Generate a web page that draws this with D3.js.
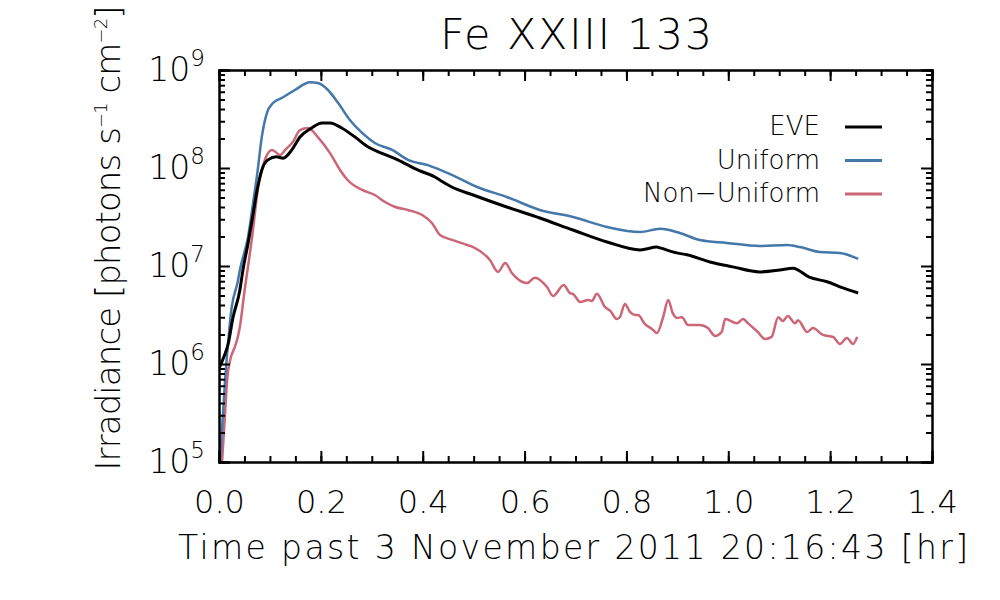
<!DOCTYPE html>
<html lang="en">

<head>
    <meta charset="UTF-8">
    <title>Fe XXIII 133</title>
    <style>
        * {
            margin: 0;
            padding: 0;
        }

        html,
        body {
            overflow: hidden;
            background: #fff;
        }

        text {
            font-family: 'DejaVu Sans', sans-serif;
            font-weight: 200;
            fill: #000;
        }
    </style>
</head>

<body>
    <div id="chart"></div>
    <script src="https://cdn.jsdelivr.net/npm/d3@7"></script>
    <script>
        const xTicks = [0.0, 0.2, 0.4, 0.6, 0.8, 1.0, 1.2, 1.4]
        const yTicks = [1e5, 1e6, 1e7, 1e8, 1e9]

        const seriesNames = ['EVE', 'Uniform', 'Non\u2212Uniform']
        const seriesColors = ['#000000', '#4477AA', '#CC6677']

        const eveTime = [0, 0.010, 0.018, 0.027, 0.041, 0.047, 0.057, 0.065, 0.076, 0.084, 0.096, 0.113, 0.126, 0.143, 0.159, 0.182, 0.202, 0.218, 0.241, 0.267, 0.293, 0.319, 0.351, 0.391, 0.424, 0.434, 0.457, 0.499, 0.565, 0.630, 0.695, 0.762, 0.827, 0.860, 0.866, 0.899, 0.919, 0.964, 1.009, 1.061, 1.101, 1.127, 1.159, 1.194, 1.225, 1.255]
        const eveValue = [9.0e5, 1.2e6, 1.6e6, 2.9e6, 5.7e6, 9.1e6, 1.7e7, 2.95e7, 6.4e7, 9.5e7, 1.21e8, 1.30e8, 1.26e8, 1.53e8, 2.07e8, 2.56e8, 2.88e8, 2.88e8, 2.56e8, 2.07e8, 1.64e8, 1.42e8, 1.21e8, 9.5e7, 8.1e7, 7.5e7, 6.4e7, 5.3e7, 4.0e7, 3.09e7, 2.33e7, 1.76e7, 1.46e7, 1.56e7, 1.53e7, 1.36e7, 1.30e7, 1.10e7, 9.8e6, 8.7e6, 9.1e6, 9.5e6, 7.7e6, 6.9e6, 5.97e6, 5.3e6]

        const uniformTime = [0.002, 0.004, 0.012, 0.015, 0.025, 0.037, 0.041, 0.057, 0.067, 0.076, 0.084, 0.094, 0.106, 0.123, 0.149, 0.179, 0.194, 0.214, 0.234, 0.257, 0.281, 0.306, 0.340, 0.371, 0.410, 0.457, 0.507, 0.565, 0.630, 0.695, 0.762, 0.827, 0.866, 0.905, 0.944, 0.997, 1.061, 1.115, 1.141, 1.179, 1.219, 1.255]
        const uniformValue = [1.0e5, 1.5e5, 6.9e5, 1.1e6, 3.8e6, 7.0e6, 9.1e6, 1.98e7, 4.4e7, 9.5e7, 2.07e8, 3.64e8, 4.6e8, 5.18e8, 6.25e8, 7.5e8, 7.36e8, 6.25e8, 4.6e8, 3.09e8, 2.28e8, 1.80e8, 1.53e8, 1.21e8, 1.07e8, 8.5e7, 6.4e7, 5.06e7, 3.73e7, 3.16e7, 2.5e7, 2.22e7, 2.4e7, 2.17e7, 1.84e7, 1.72e7, 1.60e7, 1.64e7, 1.56e7, 1.39e7, 1.36e7, 1.18e7]

        const nonUniformTime = [0.006, 0.012, 0.016, 0.022, 0.031, 0.037, 0.041, 0.049, 0.065, 0.077, 0.090, 0.104, 0.120, 0.130, 0.145, 0.159, 0.175, 0.194, 0.218, 0.238, 0.253, 0.281, 0.306, 0.326, 0.346, 0.371, 0.399, 0.418, 0.434, 0.459, 0.487, 0.499, 0.532, 0.548, 0.562, 0.575, 0.605, 0.620, 0.644, 0.656, 0.677, 0.689, 0.695, 0.709, 0.725, 0.732, 0.742, 0.758, 0.768, 0.781, 0.787, 0.797, 0.807, 0.817, 0.823, 0.836, 0.850, 0.860, 0.872, 0.882, 0.891, 0.899, 0.909, 0.921, 0.944, 0.960, 0.974, 0.987, 0.994, 1.017, 1.029, 1.039, 1.058, 1.072, 1.085, 1.098, 1.107, 1.117, 1.131, 1.137, 1.155, 1.166, 1.186, 1.206, 1.219, 1.233, 1.245, 1.253]
        const nonUniformValue = [1.0e5, 3.16e5, 6.9e5, 1.10e6, 1.49e6, 1.89e6, 2.4e6, 5.0e6, 1.98e7, 6.4e7, 1.21e8, 1.53e8, 1.36e8, 1.53e8, 1.84e8, 2.44e8, 2.56e8, 2.07e8, 1.42e8, 9.5e7, 7.5e7, 5.97e7, 5.3e7, 4.5e7, 4.0e7, 3.73e7, 3.31e7, 2.75e7, 2.07e7, 1.84e7, 1.64e7, 1.56e7, 1.15e7, 8.7e6, 1.07e7, 8.5e6, 6.7e6, 7.6e6, 6.1e6, 4.94e6, 6.4e6, 5.3e6, 5.2e6, 4.3e6, 4.5e6, 4.4e6, 5.2e6, 3.8e6, 3.5e6, 2.88e6, 3.0e6, 4.1e6, 3.4e6, 3.16e6, 3.16e6, 2.56e6, 2.28e6, 2.07e6, 3.0e6, 4.5e6, 3.3e6, 2.95e6, 3.0e6, 2.5e6, 2.5e6, 2.33e6, 1.93e6, 2.12e6, 2.88e6, 2.6e6, 2.88e6, 2.6e6, 2.12e6, 1.80e6, 1.89e6, 3.0e6, 2.75e6, 3.09e6, 2.6e6, 2.8e6, 2.12e6, 2.33e6, 1.98e6, 1.89e6, 1.60e6, 1.84e6, 1.60e6, 1.89e6]

        function drawChart() {
            const width = 1000
            const height = 600
            const margin = { top: 70, right: 68, bottom: 138, left: 219 }
            const innerWidth = width - margin.left - margin.right
            const innerHeight = height - margin.top - margin.bottom

            const svg = d3.select('#chart')
                .append('svg')
                .attr('width', width)
                .attr('height', height)
                .style('background-color', '#fff')

            const x = d3.scaleLinear()
                .domain([0, 1.4])
                .range([0, innerWidth])

            const y = d3.scaleLog()
                .domain([1e5, 1e9])
                .range([innerHeight, 0])

            const g = svg.append('g')
                .attr('transform', `translate(${margin.left}, ${margin.top})`)

            const series = [
                { time: nonUniformTime, value: nonUniformValue, color: seriesColors[2], width: 2.5 },
                { time: uniformTime, value: uniformValue, color: seriesColors[1], width: 2.5 },
                { time: eveTime, value: eveValue, color: seriesColors[0], width: 3 }
            ]

            svg.append('clipPath')
                .attr('id', 'plot-clip')
                .append('rect')
                .attr('width', innerWidth)
                .attr('height', innerHeight)

            const line = d3.line()
                .x(d => x(d[0]))
                .y(d => y(d[1]))
                .curve(d3.curveMonotoneX)

            g.append('g')
                .attr('clip-path', 'url(#plot-clip)')
                .selectAll('path')
                .data(series)
                .join('path')
                .attr('d', s => line(d3.zip(s.time, s.value)))
                .attr('fill', 'none')
                .attr('stroke', s => s.color)
                .attr('stroke-width', s => s.width)
                .attr('stroke-linejoin', 'round')

            // x axes: major + minor ticks, bottom and top
            const xMinor = d3.range(0, 1.401, 0.05)
            const majorLen = 11
            const minorLen = 6

            const xBottom = g.append('g')
                .attr('transform', `translate(0, ${innerHeight})`)
                .call(d3.axisBottom(x).tickValues(xTicks).tickSize(-majorLen).tickPadding(28).tickFormat(d3.format('.1f')))
            g.append('g')
                .attr('transform', `translate(0, ${innerHeight})`)
                .call(d3.axisBottom(x).tickValues(xMinor).tickSize(-minorLen).tickFormat(''))
            g.append('g')
                .call(d3.axisTop(x).tickValues(xTicks).tickSize(-majorLen).tickFormat(''))
            g.append('g')
                .call(d3.axisTop(x).tickValues(xMinor).tickSize(-minorLen).tickFormat(''))

            // y axes: decades + log minor ticks, left and right
            const yMinor = []
            yTicks.slice(0, -1).forEach(t => {
                for (let k = 2; k <= 9; k++) yMinor.push(t * k)
            })

            const yLeft = g.append('g')
                .call(d3.axisLeft(y).tickValues(yTicks).tickSize(-majorLen).tickPadding(14).tickFormat(''))
            g.append('g')
                .call(d3.axisLeft(y).tickValues(yMinor).tickSize(-minorLen).tickFormat(''))
            g.append('g')
                .attr('transform', `translate(${innerWidth}, 0)`)
                .call(d3.axisRight(y).tickValues(yTicks).tickSize(-majorLen).tickFormat(''))
            g.append('g')
                .attr('transform', `translate(${innerWidth}, 0)`)
                .call(d3.axisRight(y).tickValues(yMinor).tickSize(-minorLen).tickFormat(''))

            g.selectAll('.domain')
                .attr('stroke', '#000')
                .attr('stroke-width', 2)
            g.selectAll('.tick line')
                .attr('stroke', '#000')
                .attr('stroke-width', 2)

            xBottom.selectAll('.tick text')
                .attr('font-size', 32)
                .attr('font-family', null)

            yLeft.selectAll('.tick text')
                .attr('font-family', null)
                .attr('font-size', 33)
                .attr('dy', '0.32em')
                .each(function (d) {
                    const t = d3.select(this)
                    t.append('tspan').text('10')
                    t.append('tspan')
                        .attr('dy', -15)
                        .attr('font-size', 23)
                        .text(Math.round(Math.log10(d)))
                })

            // title and axis labels
            svg.append('text')
                .attr('x', 576)
                .attr('y', 49)
                .attr('text-anchor', 'middle')
                .attr('font-size', 43)
                .attr('textLength', 272)
                .text('Fe XXIII 133')

            svg.append('text')
                .attr('x', 573)
                .attr('y', 559)
                .attr('text-anchor', 'middle')
                .attr('font-size', 33)
                .attr('textLength', 790)
                .text('Time past 3 November 2011 20:16:43 [hr]')

            const yLabel = svg.append('text')
                .attr('transform', 'translate(120, 238) rotate(-90)')
                .attr('text-anchor', 'middle')
                .attr('font-size', 34)
                .attr('textLength', 465)
            yLabel.append('tspan').text('Irradiance [photons s')
            yLabel.append('tspan').attr('dy', -13).attr('font-size', 18).text('\u22121')
            yLabel.append('tspan').attr('dy', 13).text(' cm')
            yLabel.append('tspan').attr('dy', -13).attr('font-size', 18).text('\u22122')
            yLabel.append('tspan').attr('dy', 13).text(']')

            // legend
            const legend = svg.append('g')
                .selectAll('g')
                .data(seriesNames)
                .join('g')
                .attr('transform', (d, i) => `translate(820, ${135 + i * 33.5})`)

            legend.append('text')
                .attr('text-anchor', 'end')
                .attr('font-size', 26)
                .text(d => d)

            legend.append('line')
                .attr('x1', 25)
                .attr('x2', 62)
                .attr('y1', -8)
                .attr('y2', -8)
                .attr('stroke', (d, i) => seriesColors[i])
                .attr('stroke-width', 3)
        }

        drawChart()
    </script>
</body>

</html>
